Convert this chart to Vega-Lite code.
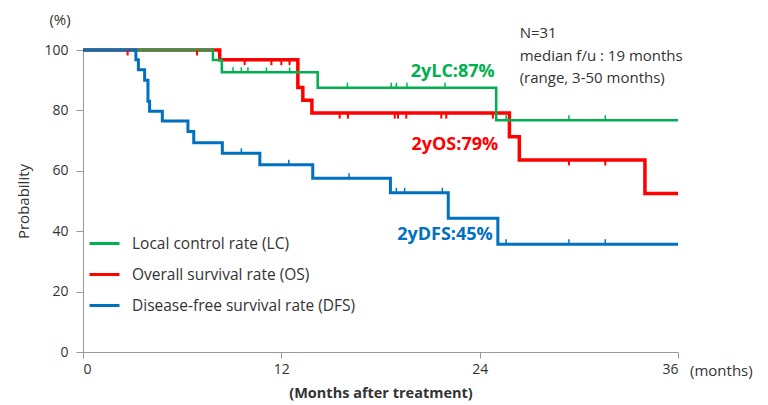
{
  "$schema": "https://vega.github.io/schema/vega-lite/v6.json",
  "width": 595,
  "height": 302,
  "autosize": {"type": "none"},
  "padding": {"left": 83, "top": 50, "right": 90, "bottom": 53},
  "background": "white",
  "config": {
    "view": {"stroke": null},
    "font": "Open Sans",
    "text": {"font": "Open Sans"}
  },
  "datasets": {
    "curves": [
      {"series": "Local control rate (LC)", "month": 0, "pct": 100},
      {"series": "Local control rate (LC)", "month": 7.86, "pct": 96.7},
      {"series": "Local control rate (LC)", "month": 8.4, "pct": 92.6},
      {"series": "Local control rate (LC)", "month": 14.2, "pct": 87.5},
      {"series": "Local control rate (LC)", "month": 25.0, "pct": 76.7},
      {"series": "Local control rate (LC)", "month": 36, "pct": 76.7},
      {"series": "Overall survival rate (OS)", "month": 0, "pct": 100},
      {"series": "Overall survival rate (OS)", "month": 8.27, "pct": 96.8},
      {"series": "Overall survival rate (OS)", "month": 13.0, "pct": 87.6},
      {"series": "Overall survival rate (OS)", "month": 13.3, "pct": 83.4},
      {"series": "Overall survival rate (OS)", "month": 13.85, "pct": 79.1},
      {"series": "Overall survival rate (OS)", "month": 25.8, "pct": 71.3},
      {"series": "Overall survival rate (OS)", "month": 26.4, "pct": 63.6},
      {"series": "Overall survival rate (OS)", "month": 34.0, "pct": 52.5},
      {"series": "Overall survival rate (OS)", "month": 36, "pct": 52.5},
      {"series": "Disease-free survival rate (DFS)", "month": 0, "pct": 100},
      {"series": "Disease-free survival rate (DFS)", "month": 3.2, "pct": 96.8},
      {"series": "Disease-free survival rate (DFS)", "month": 3.35, "pct": 93.5},
      {"series": "Disease-free survival rate (DFS)", "month": 3.73, "pct": 90.0},
      {"series": "Disease-free survival rate (DFS)", "month": 3.93, "pct": 83.0},
      {"series": "Disease-free survival rate (DFS)", "month": 4.03, "pct": 79.7},
      {"series": "Disease-free survival rate (DFS)", "month": 4.8, "pct": 76.5},
      {"series": "Disease-free survival rate (DFS)", "month": 6.35, "pct": 73.0},
      {"series": "Disease-free survival rate (DFS)", "month": 6.7, "pct": 69.3},
      {"series": "Disease-free survival rate (DFS)", "month": 8.43, "pct": 65.8},
      {"series": "Disease-free survival rate (DFS)", "month": 10.7, "pct": 62.0},
      {"series": "Disease-free survival rate (DFS)", "month": 13.9, "pct": 57.5},
      {"series": "Disease-free survival rate (DFS)", "month": 18.6, "pct": 52.7},
      {"series": "Disease-free survival rate (DFS)", "month": 22.1, "pct": 44.3},
      {"series": "Disease-free survival rate (DFS)", "month": 25.1, "pct": 35.7},
      {"series": "Disease-free survival rate (DFS)", "month": 36, "pct": 35.7}
    ],
    "censor": [
      {"series": "LC", "month": 9.08, "pct": 92.6},
      {"series": "LC", "month": 9.58, "pct": 92.6},
      {"series": "LC", "month": 9.98, "pct": 92.6},
      {"series": "LC", "month": 11.1, "pct": 92.6},
      {"series": "LC", "month": 12.5, "pct": 92.6},
      {"series": "LC", "month": 16.0, "pct": 87.5},
      {"series": "LC", "month": 18.65, "pct": 87.5},
      {"series": "LC", "month": 18.96, "pct": 87.5},
      {"series": "LC", "month": 19.6, "pct": 87.5},
      {"series": "LC", "month": 21.9, "pct": 87.5},
      {"series": "LC", "month": 25.6, "pct": 76.7},
      {"series": "LC", "month": 29.4, "pct": 76.7},
      {"series": "LC", "month": 31.6, "pct": 76.7},
      {"series": "OS", "month": 2.7, "pct": 100},
      {"series": "OS", "month": 6.9, "pct": 100},
      {"series": "OS", "month": 9.78, "pct": 96.8},
      {"series": "OS", "month": 11.4, "pct": 96.8},
      {"series": "OS", "month": 12.0, "pct": 96.8},
      {"series": "OS", "month": 12.5, "pct": 96.8},
      {"series": "OS", "month": 15.53, "pct": 79.1},
      {"series": "OS", "month": 16.03, "pct": 79.1},
      {"series": "OS", "month": 18.86, "pct": 79.1},
      {"series": "OS", "month": 19.06, "pct": 79.1},
      {"series": "OS", "month": 19.56, "pct": 79.1},
      {"series": "OS", "month": 21.68, "pct": 79.1},
      {"series": "OS", "month": 21.98, "pct": 79.1},
      {"series": "OS", "month": 24.8, "pct": 79.1},
      {"series": "OS", "month": 29.4, "pct": 63.6},
      {"series": "OS", "month": 31.6, "pct": 63.6},
      {"series": "DFS", "month": 9.58, "pct": 65.8},
      {"series": "DFS", "month": 12.45, "pct": 62.0},
      {"series": "DFS", "month": 16.1, "pct": 57.5},
      {"series": "DFS", "month": 18.96, "pct": 52.7},
      {"series": "DFS", "month": 19.46, "pct": 52.7},
      {"series": "DFS", "month": 21.74, "pct": 52.7},
      {"series": "DFS", "month": 25.6, "pct": 35.7},
      {"series": "DFS", "month": 29.4, "pct": 35.7},
      {"series": "DFS", "month": 31.6, "pct": 35.7}
    ],
    "notes": [
      {"series": "LC", "text": "2yLC:87%", "month": 22.37, "pct": 92.7},
      {"series": "OS", "text": "2yOS:79%", "month": 22.5, "pct": 68.6},
      {"series": "DFS", "text": "2yDFS:45%", "month": 21.9, "pct": 38.9}
    ],
    "info": [
      {"lines": ["N=31", "median f/u : 19 months", "(range, 3-50 months)"], "month": 26.42, "pct": 105.6}
    ],
    "units": [
      {"label": "(%)", "month": 0, "pct": 100, "where": "y"},
      {"label": "(months)", "month": 36, "pct": 0, "where": "x"}
    ]
  },
  "encoding": {
    "x": {
      "field": "month",
      "type": "quantitative",
      "scale": {"domain": [0, 36]},
      "axis": {
        "values": [0, 12, 24, 36],
        "title": "(Months after treatment)",
        "titleFontSize": 14.5,
        "titleFontWeight": "bold",
        "titleColor": "#333",
        "titlePadding": 10,
        "labelFontSize": 14,
        "labelColor": "#333",
        "labelPadding": 4,
        "tickSize": 6,
        "domainColor": "#999",
        "tickColor": "#999",
        "grid": false
      }
    },
    "y": {
      "field": "pct",
      "type": "quantitative",
      "scale": {"domain": [0, 100]},
      "axis": {
        "values": [0, 20, 40, 60, 80, 100],
        "title": "Probability",
        "titleFontSize": 15,
        "titleFontWeight": "normal",
        "titleColor": "#333",
        "titlePadding": 12,
        "labelFontSize": 14,
        "labelColor": "#333",
        "labelPadding": 8,
        "tickSize": 7,
        "domainColor": "#999",
        "tickColor": "#999",
        "grid": false
      }
    }
  },
  "layer": [
    {
      "data": {"name": "curves"},
      "transform": [{"filter": "datum.series === 'Overall survival rate (OS)'"}],
      "mark": {"type": "line", "interpolate": "step-after", "strokeWidth": 3.5},
      "encoding": {
        "color": {
          "field": "series", "type": "nominal",
          "scale": {"domain": ["Local control rate (LC)", "Overall survival rate (OS)", "Disease-free survival rate (DFS)"], "range": ["#00b050", "#ff0000", "#0070c0"]},
          "legend": {"orient": "none", "legendX": 5, "legendY": 177, "title": null, "symbolType": "stroke", "symbolSize": 900, "symbolStrokeWidth": 3, "labelFontSize": 15.5, "labelLimit": 400, "labelColor": "#333", "labelOffset": 11, "rowPadding": 6, "padding": 0}
        }
      }
    },
    {
      "data": {"name": "curves"},
      "transform": [{"filter": "datum.series === 'Local control rate (LC)'"}],
      "mark": {"type": "line", "interpolate": "step-after", "strokeWidth": 2.5},
      "encoding": {
        "color": {
          "field": "series", "type": "nominal",
          "legend": {"orient": "none", "legendX": 5, "legendY": 177, "title": null, "symbolType": "stroke", "symbolSize": 900, "symbolStrokeWidth": 3, "labelFontSize": 15.5, "labelLimit": 400, "labelColor": "#333", "labelOffset": 11, "rowPadding": 6, "padding": 0}
        }
      }
    },
    {
      "data": {"name": "curves"},
      "transform": [{"filter": "datum.series === 'Disease-free survival rate (DFS)'"}],
      "mark": {"type": "line", "interpolate": "step-after", "strokeWidth": 3},
      "encoding": {
        "color": {
          "field": "series", "type": "nominal",
          "legend": {"orient": "none", "legendX": 5, "legendY": 177, "title": null, "symbolType": "stroke", "symbolSize": 900, "symbolStrokeWidth": 3, "labelFontSize": 15.5, "labelLimit": 400, "labelColor": "#333", "labelOffset": 11, "rowPadding": 6, "padding": 0}
        }
      }
    },
    {
      "data": {"name": "censor"},
      "transform": [{"filter": "datum.series === 'LC'"}],
      "mark": {"type": "tick", "orient": "vertical", "size": 5, "thickness": 1.5, "yOffset": -2.5, "color": "#00b050", "opacity": 1}
    },
    {
      "data": {"name": "censor"},
      "transform": [{"filter": "datum.series === 'OS'"}],
      "mark": {"type": "tick", "orient": "vertical", "size": 5, "thickness": 2, "yOffset": 3, "color": "#ff0000", "opacity": 1}
    },
    {
      "data": {"name": "censor"},
      "transform": [{"filter": "datum.series === 'DFS'"}],
      "mark": {"type": "tick", "orient": "vertical", "size": 5, "thickness": 1.5, "yOffset": -2.5, "color": "#0070c0", "opacity": 1}
    },
    {
      "data": {"name": "notes"},
      "transform": [{"filter": "datum.series === 'LC'"}],
      "mark": {"type": "text", "fontSize": 18, "fontWeight": "bold", "color": "#00b050", "align": "center", "baseline": "middle"},
      "encoding": {"text": {"field": "text"}}
    },
    {
      "data": {"name": "notes"},
      "transform": [{"filter": "datum.series === 'OS'"}],
      "mark": {"type": "text", "fontSize": 18, "fontWeight": "bold", "color": "#ff0000", "align": "center", "baseline": "middle"},
      "encoding": {"text": {"field": "text"}}
    },
    {
      "data": {"name": "notes"},
      "transform": [{"filter": "datum.series === 'DFS'"}],
      "mark": {"type": "text", "fontSize": 18, "fontWeight": "bold", "color": "#0070c0", "align": "center", "baseline": "middle"},
      "encoding": {"text": {"field": "text"}}
    },
    {
      "data": {"name": "info"},
      "mark": {"type": "text", "fontSize": 15, "color": "#333", "align": "left", "baseline": "middle", "lineHeight": 22.5},
      "encoding": {"text": {"field": "lines"}}
    },
    {
      "data": {"name": "units"},
      "transform": [{"filter": "datum.where === 'y'"}],
      "mark": {"type": "text", "fontSize": 15, "color": "#333", "align": "center", "baseline": "middle", "dx": -23, "dy": -30},
      "encoding": {"text": {"field": "label"}}
    },
    {
      "data": {"name": "units"},
      "transform": [{"filter": "datum.where === 'x'"}],
      "mark": {"type": "text", "fontSize": 15, "color": "#333", "align": "left", "baseline": "middle", "dx": 12, "dy": 19},
      "encoding": {"text": {"field": "label"}}
    }
  ]
}
